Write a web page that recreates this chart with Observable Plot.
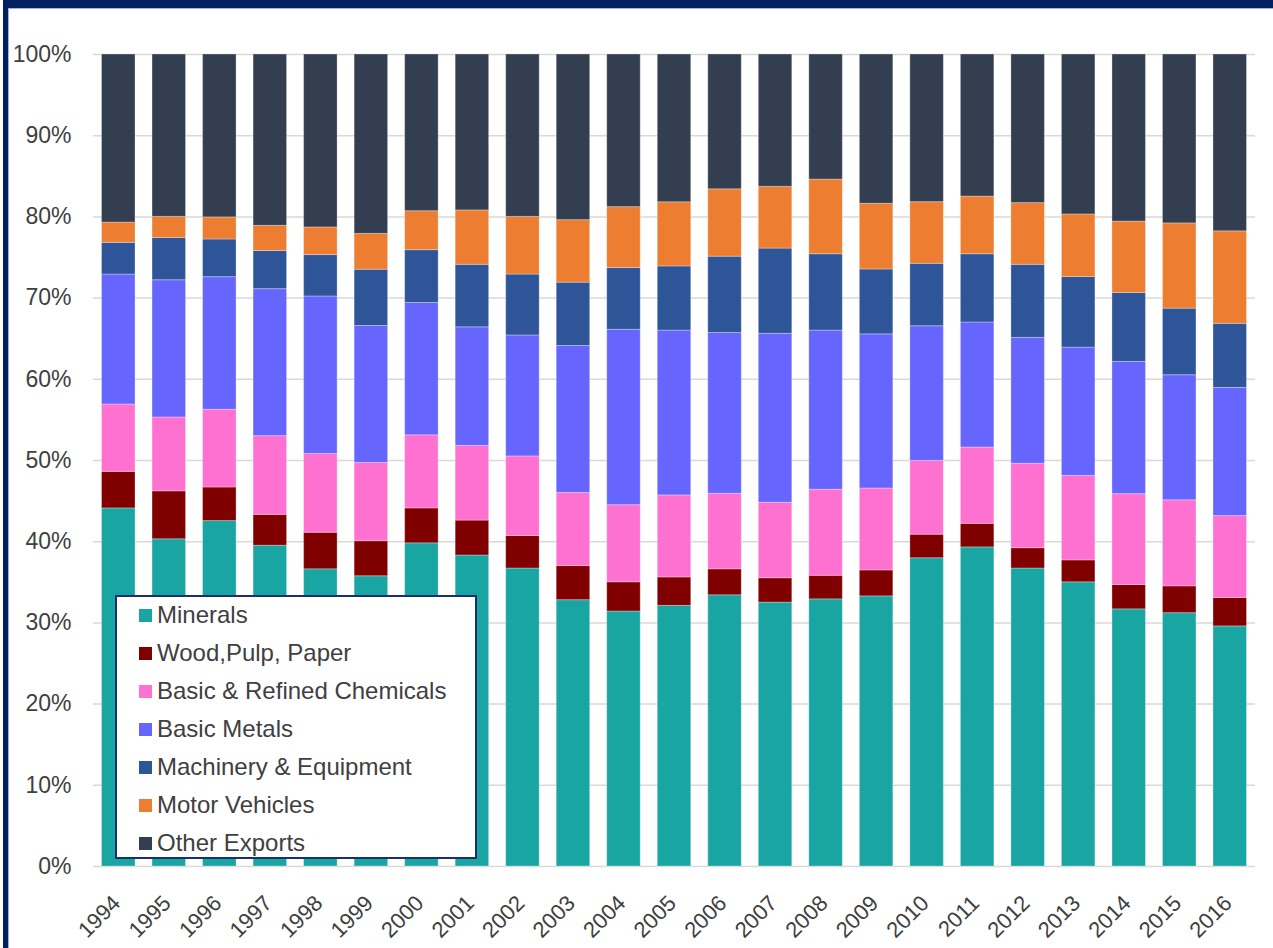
<!DOCTYPE html>
<html>
<head>
<meta charset="utf-8">
<script src="https://cdn.jsdelivr.net/npm/d3@7"></script>
<script src="https://cdn.jsdelivr.net/npm/@observablehq/plot@0.6"></script>
<style>
  html, body { margin: 0; padding: 0; background: #fff; }
  body { width: 1273px; height: 948px; position: relative; overflow: hidden; font-family: "Liberation Sans", Arial, sans-serif; }
  #chart { position: absolute; left: 0; top: 0; }
  .frame { position: absolute; background: #002060; }
  .thin { position: absolute; background: #9DB3DE; }
  #legend { position: absolute; left: 115px; top: 595px; width: 358px; height: 260px; border: 2px solid #1A2F6E; background: #fff; box-sizing: content-box; }
  .item { position: absolute; left: 22px; height: 26px; display: flex; align-items: center; font-size: 24px; color: #404040; white-space: nowrap; }
  .sw { width: 13px; height: 13px; margin-right: 5px; flex: none; }
</style>
</head>
<body>
<div id="chart"></div>
<div class="frame" style="left:3px;top:0;width:1270px;height:8px"></div>
<div class="frame" style="left:3px;top:0;width:5px;height:948px"></div>
<div class="thin" style="left:8px;top:8px;width:1px;height:940px"></div>
<div class="thin" style="left:8px;top:8px;width:1265px;height:1px"></div>
<div id="legend"></div>
<script>
const years = ["1994","1995","1996","1997","1998","1999","2000","2001","2002","2003","2004","2005","2006","2007","2008","2009","2010","2011","2012","2013","2014","2015","2016"];
const categories = ["Minerals","Wood,Pulp, Paper","Basic & Refined Chemicals","Basic Metals","Machinery & Equipment","Motor Vehicles","Other Exports"];
const colors = ["#19A5A2","#800000","#FF71D0","#6666FF","#2E5597","#ED7D31","#333F50"];

const minerals  = [44.1,40.3,42.2,39.5,36.6,35.6,39.8,38.3,36.7,32.8,31.4,32.1,33.4,32.5,32.9,33.3,38.0,39.3,36.7,35.0,31.7,31.2,29.6];
const wood      = [4.5,5.9,4.1,3.8,4.5,4.3,4.3,4.3,4.0,4.2,3.6,3.5,3.2,3.0,2.9,3.2,2.9,2.9,2.5,2.7,3.0,3.3,3.5];
const chemicals = [8.3,9.1,9.5,9.7,9.7,9.6,9.0,9.2,9.8,9.0,9.5,10.1,9.3,9.3,10.6,10.1,9.1,9.4,10.4,10.4,11.2,10.6,10.1];
const metals    = [16.0,16.9,16.2,18.1,19.4,16.8,16.3,14.6,14.9,18.1,21.6,20.3,19.8,20.8,19.6,19.0,16.6,15.4,15.5,15.8,16.3,15.4,15.8];
const machinery = [3.9,5.2,4.6,4.7,5.1,6.9,6.5,7.7,7.5,7.8,7.6,7.9,9.4,10.5,9.4,8.0,7.7,8.4,9.0,8.7,8.5,8.2,7.9];
const motor     = [2.5,2.6,2.7,3.1,3.4,4.4,4.8,6.7,7.1,7.7,7.5,7.9,8.3,7.6,9.2,8.1,7.6,7.1,7.6,7.7,8.8,10.5,11.4];
const other     = [20.7,20.0,19.9,21.1,21.3,22.0,19.3,19.2,20.0,20.4,18.8,18.2,16.6,16.3,15.4,18.4,18.2,17.5,18.3,19.7,20.6,20.8,21.8];

const yTicks = [0,0.1,0.2,0.3,0.4,0.5,0.6,0.7,0.8,0.9,1];

const series = [minerals, wood, chemicals, metals, machinery, motor, other];
const data = [];
categories.forEach((c, i) => {
  years.forEach((y, j) => data.push({year: y, cat: c, value: series[i][j]}));
});

const chart = Plot.plot({
  width: 1273,
  height: 948,
  marginTop: 54,
  marginBottom: 82,
  marginLeft: 93,
  marginRight: 18,
  style: {fontFamily: "'Liberation Sans', Arial, sans-serif", background: "transparent"},
  x: {domain: years, paddingInner: 0.337, paddingOuter: 0.1685, round: false, label: null},
  y: {domain: [0, 1], label: null},
  color: {domain: categories, range: colors},
  marks: [
    Plot.gridY(yTicks, {stroke: "#D9D9D9", strokeOpacity: 1, strokeWidth: 1.5}),
    Plot.barY(data, Plot.stackY({offset: "normalize", order: categories}, {
      x: "year", y: "value", z: "cat", fill: "cat",
      stroke: "white", strokeOpacity: 0.3, strokeWidth: 1
    })),
    Plot.axisY(yTicks, {tickSize: 0, tickPadding: 22, fontSize: 23, fill: "#404040", tickFormat: d => Math.round(d * 100) + "%"}),
    Plot.axisX({tickSize: 0, tickPadding: 33, dx: -2, tickRotate: -45, fontSize: 22, fill: "#404040"})
  ]
});
document.getElementById("chart").appendChild(chart);

const legend = document.getElementById("legend");
categories.forEach((c, i) => {
  const it = document.createElement("div");
  it.className = "item";
  it.style.top = (18 - 13 + i * 38) + "px";
  const sw = document.createElement("span");
  sw.className = "sw";
  sw.style.background = colors[i];
  const t = document.createElement("span");
  t.textContent = c;
  it.appendChild(sw);
  it.appendChild(t);
  legend.appendChild(it);
});
</script>
</body>
</html>
